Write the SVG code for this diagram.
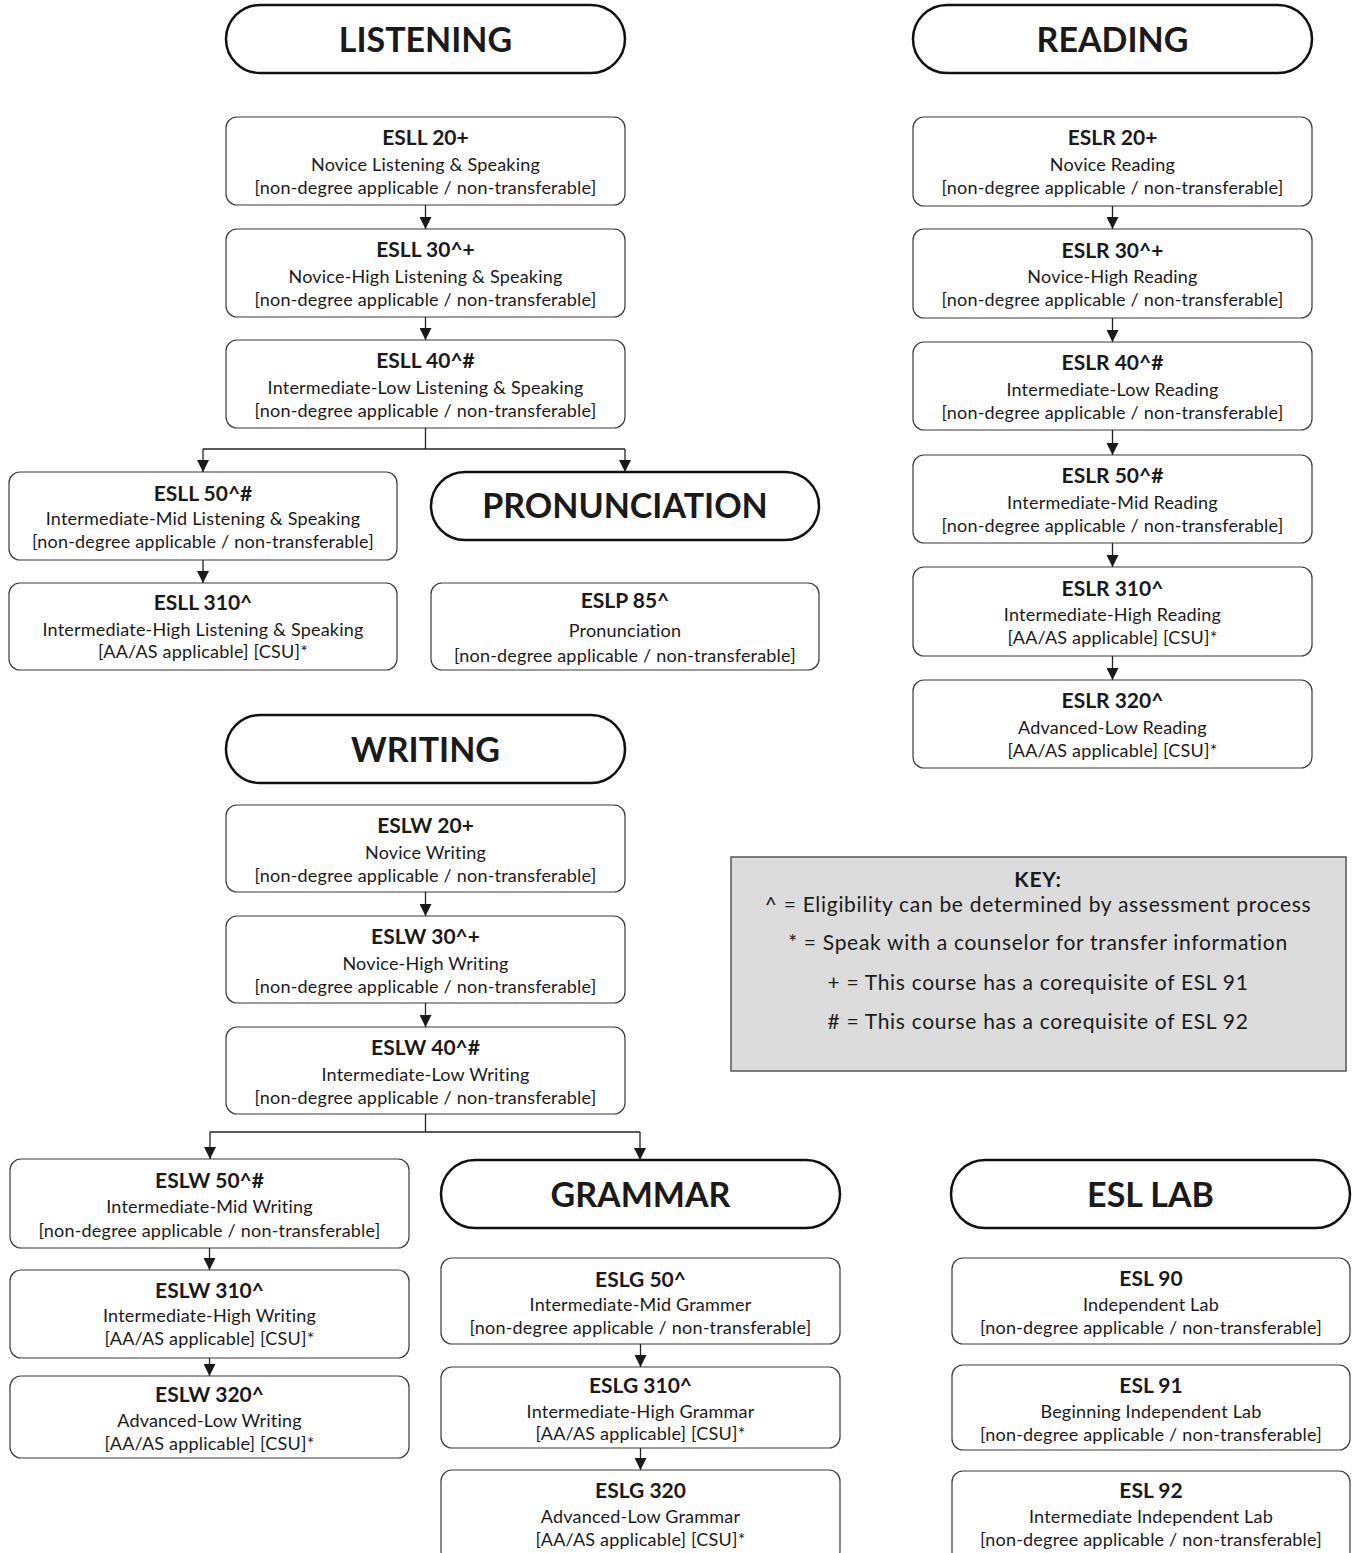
<svg xmlns="http://www.w3.org/2000/svg" width="1353" height="1553" viewBox="0 0 1353 1553">
<style>
.hdr{fill:#fff;stroke:#111;stroke-width:2.5}
.hdrt{font-family:Lato,"Open Sans",sans-serif;font-weight:bold;font-size:34px;fill:#1a1a1a;text-anchor:middle}
.box{fill:#fff;stroke:#3a3a3a;stroke-width:1.2}
.t{font-family:Lato,"Open Sans",sans-serif;font-weight:bold;font-size:21px;fill:#1a1a1a;text-anchor:middle}
.s{font-family:Lato,"Open Sans",sans-serif;font-size:18px;letter-spacing:0.2px;fill:#1a1a1a;text-anchor:middle}
.key{fill:#dcdcdc;stroke:#555;stroke-width:1.5}
.k{font-family:Lato,"Open Sans",sans-serif;font-size:21px;letter-spacing:0.7px;fill:#1a1a1a;text-anchor:middle}
.c{fill:none;stroke:#222;stroke-width:1.3}
</style>
<defs>
<marker id="ah" viewBox="0 0 12 12" refX="12" refY="6" markerWidth="12" markerHeight="12" orient="auto" markerUnits="userSpaceOnUse">
<path d="M0,0 L12,6 L0,12 z" fill="#1a1a1a"/>
</marker>
</defs>

<!-- Headers -->
<g id="hdr-listening"><rect class="hdr" x="226" y="5" width="399" height="68" rx="34"/><text class="hdrt" x="425.5" y="52">LISTENING</text></g>
<g id="hdr-reading"><rect class="hdr" x="913" y="5" width="399" height="68" rx="34"/><text class="hdrt" x="1112.5" y="52">READING</text></g>
<g id="hdr-pronunciation"><rect class="hdr" x="431" y="472" width="388" height="68" rx="34"/><text class="hdrt" x="625" y="518">PRONUNCIATION</text></g>
<g id="hdr-writing"><rect class="hdr" x="226" y="715" width="399" height="68" rx="34"/><text class="hdrt" x="425.5" y="762">WRITING</text></g>
<g id="hdr-grammar"><rect class="hdr" x="441" y="1160" width="399" height="68" rx="34"/><text class="hdrt" x="640.5" y="1207">GRAMMAR</text></g>
<g id="hdr-esllab"><rect class="hdr" x="951" y="1160" width="399" height="68" rx="34"/><text class="hdrt" x="1150.5" y="1207">ESL LAB</text></g>

<!-- Listening -->
<g id="esll20"><rect class="box" x="226" y="117" width="399" height="88" rx="11"/><text class="t" x="425.5" y="145">ESLL 20+</text><text class="s" x="425.5" y="171">Novice Listening &amp; Speaking</text><text class="s" x="425.5" y="194">[non-degree applicable / non-transferable]</text></g>
<g id="esll30"><rect class="box" x="226" y="229" width="399" height="88" rx="11"/><text class="t" x="425.5" y="257">ESLL 30^+</text><text class="s" x="425.5" y="283">Novice-High Listening &amp; Speaking</text><text class="s" x="425.5" y="306">[non-degree applicable / non-transferable]</text></g>
<g id="esll40"><rect class="box" x="226" y="340" width="399" height="88" rx="11"/><text class="t" x="425.5" y="368">ESLL 40^#</text><text class="s" x="425.5" y="394">Intermediate-Low Listening &amp; Speaking</text><text class="s" x="425.5" y="417">[non-degree applicable / non-transferable]</text></g>
<g id="esll50"><rect class="box" x="9" y="472" width="388" height="88" rx="11"/><text class="t" x="203" y="501">ESLL 50^#</text><text class="s" x="203" y="525">Intermediate-Mid Listening &amp; Speaking</text><text class="s" x="203" y="548">[non-degree applicable / non-transferable]</text></g>
<g id="esll310"><rect class="box" x="9" y="583" width="388" height="87" rx="11"/><text class="t" x="203" y="610">ESLL 310^</text><text class="s" x="203" y="636">Intermediate-High Listening &amp; Speaking</text><text class="s" x="203" y="658">[AA/AS applicable] [CSU]*</text></g>
<g id="eslp85"><rect class="box" x="431" y="583" width="388" height="87" rx="11"/><text class="t" x="625" y="608">ESLP 85^</text><text class="s" x="625" y="637">Pronunciation</text><text class="s" x="625" y="662">[non-degree applicable / non-transferable]</text></g>

<!-- Reading -->
<g id="eslr20"><rect class="box" x="913" y="117" width="399" height="89" rx="11"/><text class="t" x="1112.5" y="145">ESLR 20+</text><text class="s" x="1112.5" y="171">Novice Reading</text><text class="s" x="1112.5" y="194">[non-degree applicable / non-transferable]</text></g>
<g id="eslr30"><rect class="box" x="913" y="229" width="399" height="89" rx="11"/><text class="t" x="1112.5" y="258">ESLR 30^+</text><text class="s" x="1112.5" y="283">Novice-High Reading</text><text class="s" x="1112.5" y="306">[non-degree applicable / non-transferable]</text></g>
<g id="eslr40"><rect class="box" x="913" y="342" width="399" height="88" rx="11"/><text class="t" x="1112.5" y="370">ESLR 40^#</text><text class="s" x="1112.5" y="396">Intermediate-Low Reading</text><text class="s" x="1112.5" y="419">[non-degree applicable / non-transferable]</text></g>
<g id="eslr50"><rect class="box" x="913" y="455" width="399" height="88" rx="11"/><text class="t" x="1112.5" y="483">ESLR 50^#</text><text class="s" x="1112.5" y="509">Intermediate-Mid Reading</text><text class="s" x="1112.5" y="532">[non-degree applicable / non-transferable]</text></g>
<g id="eslr310"><rect class="box" x="913" y="567" width="399" height="89" rx="11"/><text class="t" x="1112.5" y="596">ESLR 310^</text><text class="s" x="1112.5" y="621">Intermediate-High Reading</text><text class="s" x="1112.5" y="644">[AA/AS applicable] [CSU]*</text></g>
<g id="eslr320"><rect class="box" x="913" y="680" width="399" height="88" rx="11"/><text class="t" x="1112.5" y="708">ESLR 320^</text><text class="s" x="1112.5" y="734">Advanced-Low Reading</text><text class="s" x="1112.5" y="757">[AA/AS applicable] [CSU]*</text></g>

<!-- Writing -->
<g id="eslw20"><rect class="box" x="226" y="805" width="399" height="87" rx="11"/><text class="t" x="425.5" y="833">ESLW 20+</text><text class="s" x="425.5" y="859">Novice Writing</text><text class="s" x="425.5" y="882">[non-degree applicable / non-transferable]</text></g>
<g id="eslw30"><rect class="box" x="226" y="916" width="399" height="87" rx="11"/><text class="t" x="425.5" y="944">ESLW 30^+</text><text class="s" x="425.5" y="970">Novice-High Writing</text><text class="s" x="425.5" y="993">[non-degree applicable / non-transferable]</text></g>
<g id="eslw40"><rect class="box" x="226" y="1027" width="399" height="87" rx="11"/><text class="t" x="425.5" y="1055">ESLW 40^#</text><text class="s" x="425.5" y="1081">Intermediate-Low Writing</text><text class="s" x="425.5" y="1104">[non-degree applicable / non-transferable]</text></g>
<g id="eslw50"><rect class="box" x="10" y="1159" width="399" height="89" rx="11"/><text class="t" x="209.5" y="1188">ESLW 50^#</text><text class="s" x="209.5" y="1213">Intermediate-Mid Writing</text><text class="s" x="209.5" y="1237">[non-degree applicable / non-transferable]</text></g>
<g id="eslw310"><rect class="box" x="10" y="1270" width="399" height="88" rx="11"/><text class="t" x="209.5" y="1298">ESLW 310^</text><text class="s" x="209.5" y="1322">Intermediate-High Writing</text><text class="s" x="209.5" y="1345">[AA/AS applicable] [CSU]*</text></g>
<g id="eslw320"><rect class="box" x="10" y="1376" width="399" height="82" rx="11"/><text class="t" x="209.5" y="1402">ESLW 320^</text><text class="s" x="209.5" y="1427">Advanced-Low Writing</text><text class="s" x="209.5" y="1450">[AA/AS applicable] [CSU]*</text></g>

<!-- Grammar -->
<g id="eslg50"><rect class="box" x="441" y="1258" width="399" height="86" rx="11"/><text class="t" x="640.5" y="1287">ESLG 50^</text><text class="s" x="640.5" y="1311">Intermediate-Mid Grammer</text><text class="s" x="640.5" y="1334">[non-degree applicable / non-transferable]</text></g>
<g id="eslg310"><rect class="box" x="441" y="1367" width="399" height="81" rx="11"/><text class="t" x="640.5" y="1393">ESLG 310^</text><text class="s" x="640.5" y="1418">Intermediate-High Grammar</text><text class="s" x="640.5" y="1440">[AA/AS applicable] [CSU]*</text></g>
<g id="eslg320"><rect class="box" x="441" y="1470" width="399" height="92" rx="11"/><text class="t" x="640.5" y="1498">ESLG 320</text><text class="s" x="640.5" y="1523">Advanced-Low Grammar</text><text class="s" x="640.5" y="1546">[AA/AS applicable] [CSU]*</text></g>

<!-- ESL Lab -->
<g id="esl90"><rect class="box" x="952" y="1258" width="398" height="86" rx="11"/><text class="t" x="1151" y="1286">ESL 90</text><text class="s" x="1151" y="1311">Independent Lab</text><text class="s" x="1151" y="1334">[non-degree applicable / non-transferable]</text></g>
<g id="esl91"><rect class="box" x="952" y="1365" width="398" height="85" rx="11"/><text class="t" x="1151" y="1393">ESL 91</text><text class="s" x="1151" y="1418">Beginning Independent Lab</text><text class="s" x="1151" y="1441">[non-degree applicable / non-transferable]</text></g>
<g id="esl92"><rect class="box" x="952" y="1471" width="398" height="92" rx="11"/><text class="t" x="1151" y="1498">ESL 92</text><text class="s" x="1151" y="1523">Intermediate Independent Lab</text><text class="s" x="1151" y="1546">[non-degree applicable / non-transferable]</text></g>

<!-- Key -->
<g id="key"><rect class="key" x="731" y="857" width="615" height="214"/>
<text class="k" x="1038" y="887" font-weight="bold" letter-spacing="0">KEY:</text>
<text class="k" x="1038" y="912">^ = Eligibility can be determined by assessment process</text>
<text class="k" x="1038" y="950">* = Speak with a counselor for transfer information</text>
<text class="k" x="1038" y="990">+ = This course has a corequisite of ESL 91</text>
<text class="k" x="1038" y="1029"># = This course has a corequisite of ESL 92</text>
</g>

<!-- Connectors -->
<g id="connectors">
<path class="c" marker-end="url(#ah)" d="M425.5,205 V229"/>
<path class="c" marker-end="url(#ah)" d="M425.5,317 V340"/>
<path class="c" d="M425.5,428 V449 M203,449 H625"/>
<path class="c" marker-end="url(#ah)" d="M203,449 V472"/>
<path class="c" marker-end="url(#ah)" d="M625,449 V472"/>
<path class="c" marker-end="url(#ah)" d="M203,560 V583"/>

<path class="c" marker-end="url(#ah)" d="M1112.5,206 V229"/>
<path class="c" marker-end="url(#ah)" d="M1112.5,318 V342"/>
<path class="c" marker-end="url(#ah)" d="M1112.5,430 V455"/>
<path class="c" marker-end="url(#ah)" d="M1112.5,543 V567"/>
<path class="c" marker-end="url(#ah)" d="M1112.5,656 V680"/>

<path class="c" marker-end="url(#ah)" d="M425.5,892 V916"/>
<path class="c" marker-end="url(#ah)" d="M425.5,1003 V1027"/>
<path class="c" d="M425.5,1114 V1132 M210,1132 H640"/>
<path class="c" marker-end="url(#ah)" d="M210,1132 V1159"/>
<path class="c" marker-end="url(#ah)" d="M640,1132 V1160"/>
<path class="c" marker-end="url(#ah)" d="M209.5,1248 V1270"/>
<path class="c" marker-end="url(#ah)" d="M209.5,1358 V1376"/>

<path class="c" marker-end="url(#ah)" d="M640.5,1344 V1367"/>
<path class="c" marker-end="url(#ah)" d="M640.5,1448 V1470"/>
</g>
</svg>
